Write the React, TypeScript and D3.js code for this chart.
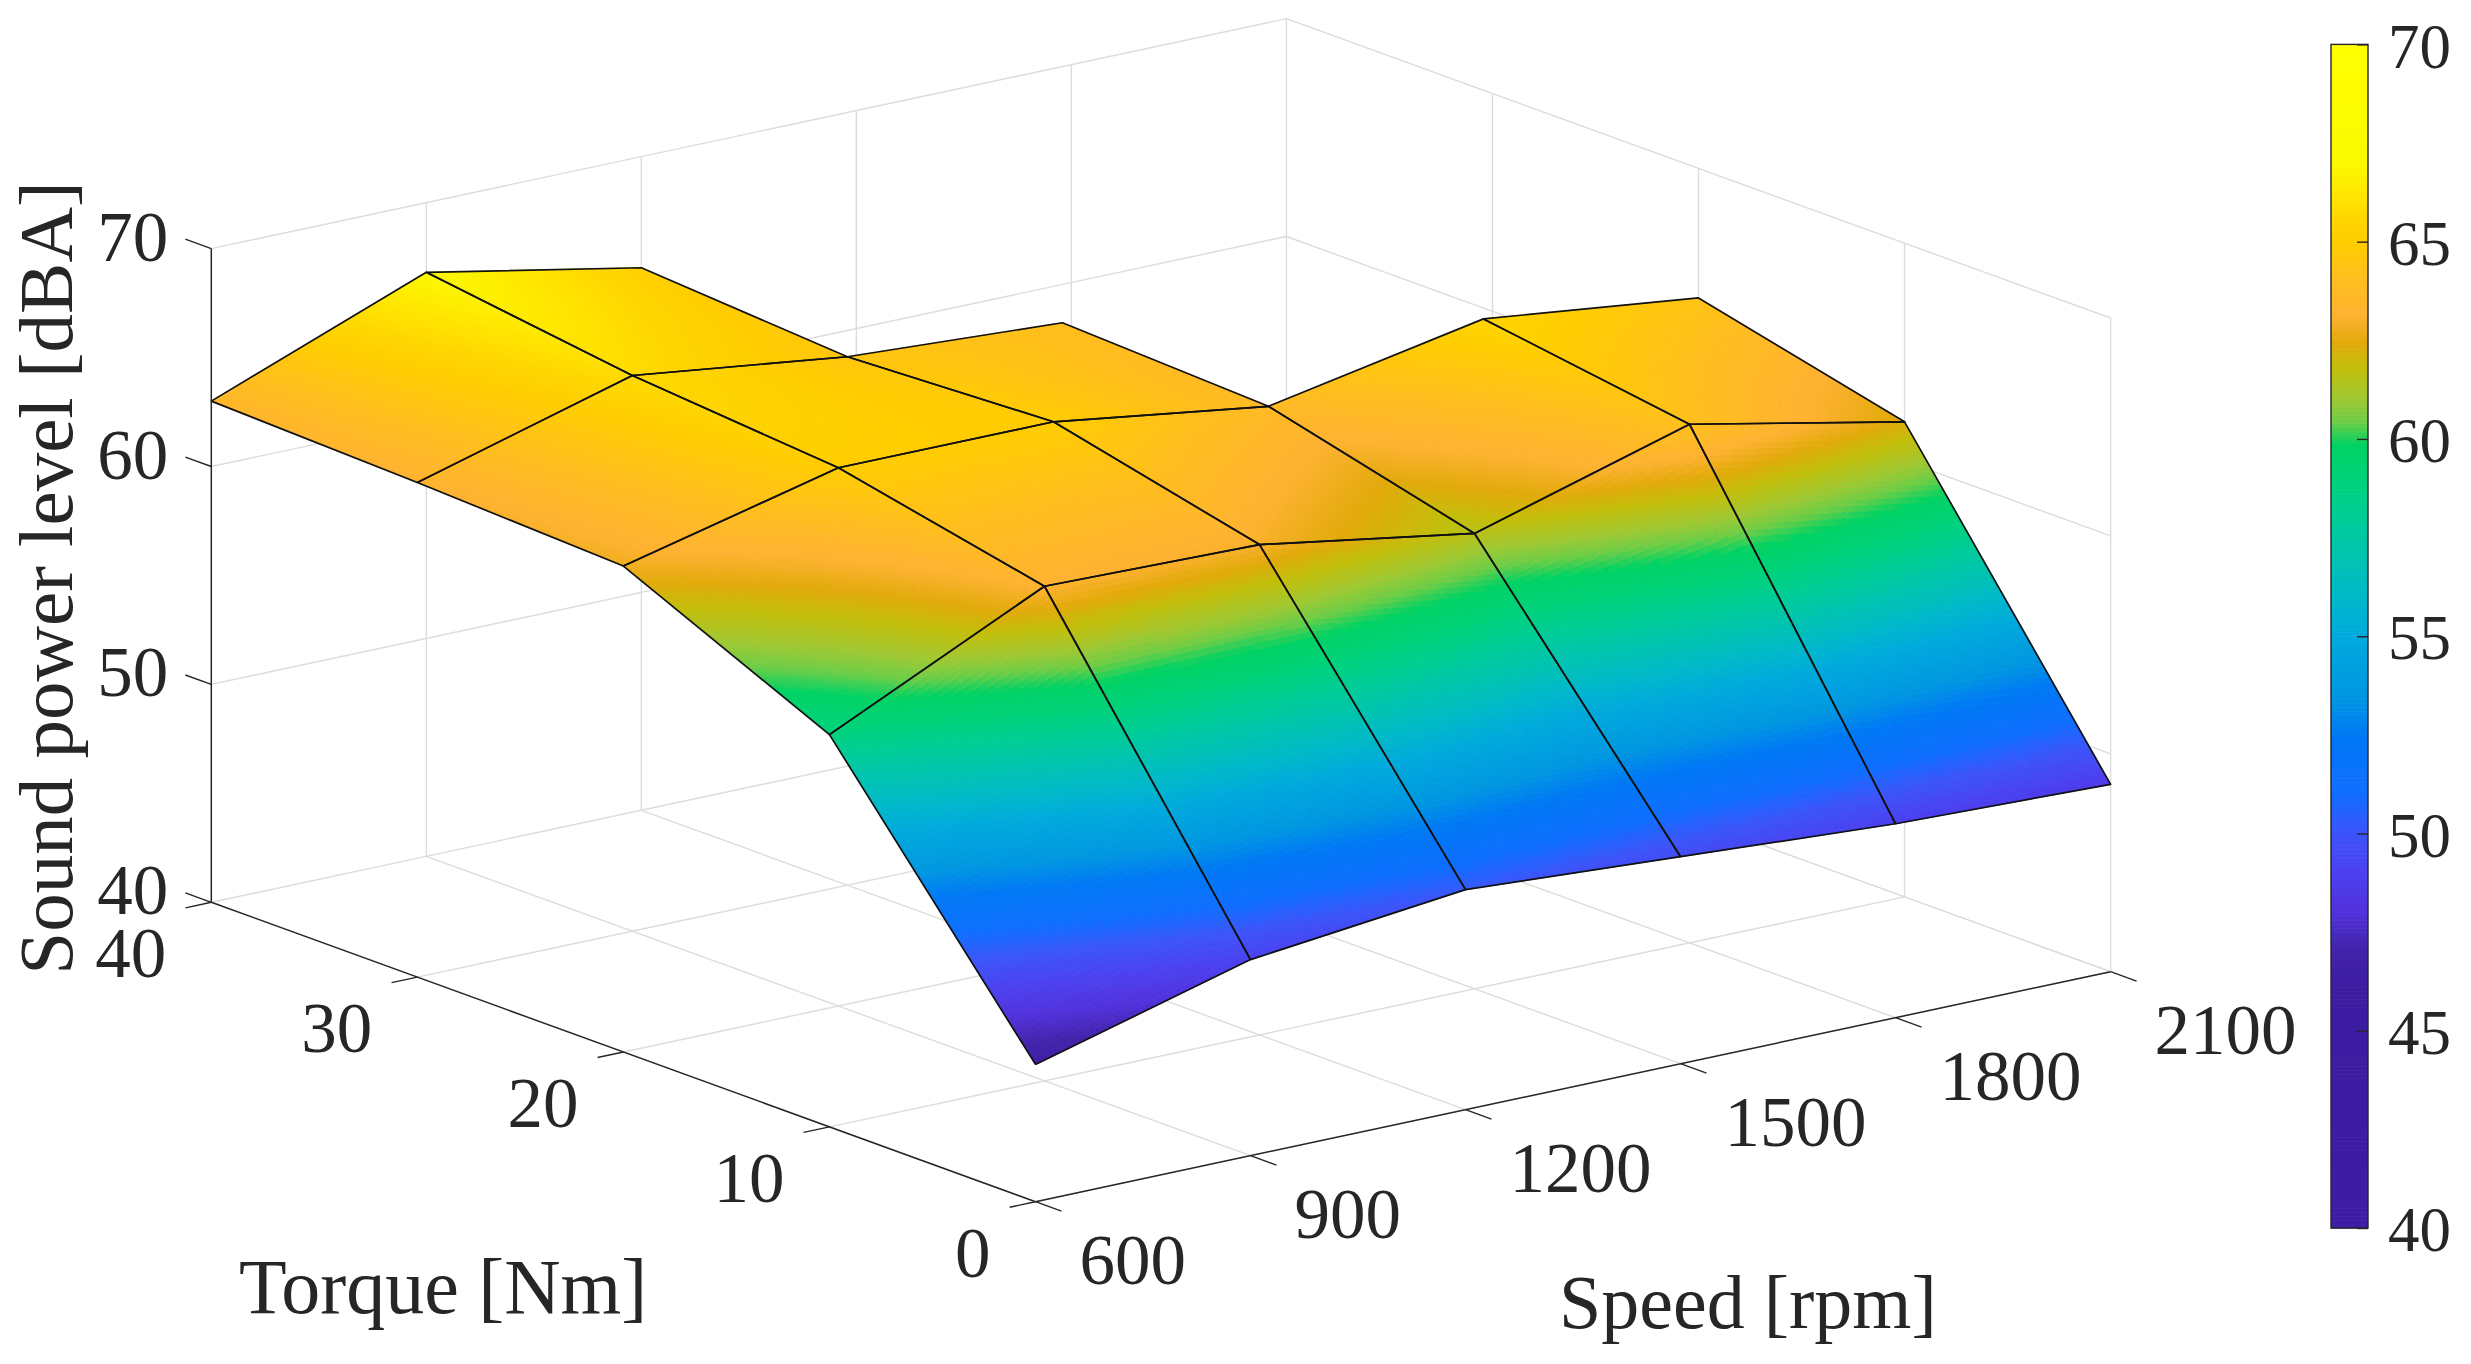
// App.tsx - sound power level surface (speed / torque map)
import * as d3 from 'd3';
import React, { useRef, useEffect } from 'react';

const speeds = [600, 900, 1200, 1500, 1800, 2100];
const torques = [0, 10, 20, 30, 40];
const zTicks = [40, 50, 60, 70];
const barTicks = [40, 45, 50, 55, 60, 65, 70];

// sound power level per torque, one value per speed, null = not measured
const splAt0 = [46.3, 49.0, 50.1, 49.5, 48.9, 48.6];
const splAt10 = [58.0, 62.7, 62.5, 60.9, 63.8, 61.8];
const splAt20 = [62.3, 64.7, 64.7, 63.3, 65.2, 64.05];
const splAt30 = [62.7, 65.5, 64.25, 63.7, null, null];
const splAt40 = [63.0, 66.8, 64.9, null, null, null];
const spl = [splAt0, splAt10, splAt20, splAt30, splAt40];

// colour bar
const mapLevels = [40, 46, 47, 48, 49, 50, 51, 52.4, 53.4, 55, 56, 57, 58, 59, 59.8, 60.4, 61, 61.8, 62.4, 63.1, 64, 65, 65.6, 66.4, 67, 70];
const mapColors = [
  '#3e1ca5', '#3c1ca0', '#4123aa', '#5232dc', '#4b41f0', '#3c55fa', '#0f6eff', '#0078f5', '#0096e1',
  '#00aadc', '#00b9c8', '#00c3af', '#00cd96', '#00d278', '#00d264', '#6ecd46', '#a0c832', '#c3be0a',
  '#e1aa0a', '#ffb232', '#ffbe1e', '#ffcd00', '#ffd800', '#ffec00', '#fafa00', '#ffff00',
];
// the surface runs a little ahead of the bar around the green band
const shadeFrom = [40, 50, 58, 61, 64, 70];
const shadeTo = [40, 50, 58.7, 61.6, 64.3, 70];

const W = 2471;
const H = 1364;
const textColor = '#262626';
const gridColor = '#dcdcdc';

// the view is orthographic, so three axis vectors are enough
const sx = d3.scaleLinear().domain([600, 2100]).range([0, 1]);
const sy = d3.scaleLinear().domain([0, 40]).range([0, 1]);
const sz = d3.scaleLinear().domain([40, 70]).range([0, 1]);
const origin = [1035.5, 1201.7];
const speedVec = [1075.1, -230];
const torqueVec = [-824.2, -299.4];
const levelVec = [0, -653.7];

function project(speed: number, torque: number, level: number): [number, number] {
  const a = sx(speed), b = sy(torque), c = sz(level);
  return [
    origin[0] + a * speedVec[0] + b * torqueVec[0] + c * levelVec[0],
    origin[1] + a * speedVec[1] + b * torqueVec[1] + c * levelVec[1],
  ];
}

function line3d(parent: any, p: [number, number], q: [number, number], color: string, width: number) {
  parent.append('line')
    .attr('x1', p[0]).attr('y1', p[1])
    .attr('x2', q[0]).attr('y2', q[1])
    .attr('stroke', color)
    .attr('stroke-width', width);
}

function App() {
  const ref = useRef<SVGSVGElement>(null);

  useEffect(() => {
    const svg = d3.select(ref.current);
    svg.selectAll('*').remove();
    const color = d3.scaleLinear<string>().domain(mapLevels).range(mapColors).interpolate(d3.interpolateRgb);
    const shade = d3.scaleLinear().domain(shadeFrom).range(shadeTo);

    // walls and floor
    const grid = svg.append('g');
    const sMin = speeds[0], sMax = speeds[speeds.length - 1];
    const tMax = torques[torques.length - 1];
    zTicks.forEach(z => {
      line3d(grid, project(sMin, tMax, z), project(sMax, tMax, z), gridColor, 1.4);
      line3d(grid, project(sMax, tMax, z), project(sMax, 0, z), gridColor, 1.4);
    });
    speeds.slice(1).forEach(s => {
      line3d(grid, project(s, 0, 40), project(s, tMax, 40), gridColor, 1.4);
      line3d(grid, project(s, tMax, 40), project(s, tMax, 70), gridColor, 1.4);
    });
    torques.slice(0, -1).forEach(t => {
      line3d(grid, project(sMin, t, 40), project(sMax, t, 40), gridColor, 1.4);
      line3d(grid, project(sMax, t, 40), project(sMax, t, 70), gridColor, 1.4);
    });

    // surface: far cells first, every cell split up for the smooth colouring
    const surface = svg.append('g');
    const steps = 64;
    const cells: [number, number][] = [];
    for (let t = torques.length - 2; t >= 0; t--) {
      for (let s = speeds.length - 2; s >= 0; s--) {
        if ([spl[t][s], spl[t][s + 1], spl[t + 1][s], spl[t + 1][s + 1]].every(v => v !== null)) cells.push([t, s]);
      }
    }
    cells.forEach(([t, s]) => {
      const s0 = speeds[s], s1 = speeds[s + 1], t0 = torques[t], t1 = torques[t + 1];
      const level = (u: number, v: number) =>
        (1 - u) * (1 - v) * (spl[t][s] as number) + u * (1 - v) * (spl[t][s + 1] as number) +
        (1 - u) * v * (spl[t + 1][s] as number) + u * v * (spl[t + 1][s + 1] as number);
      const pt = (u: number, v: number) => project(s0 + u * (s1 - s0), t0 + v * (t1 - t0), level(u, v));
      const bins = new Map<number, string>();
      for (let i = 0; i < steps; i++) {
        for (let j = 0; j < steps; j++) {
          const u0 = i / steps, u1 = (i + 1) / steps, v0 = j / steps, v1 = (j + 1) / steps;
          const bin = Math.round(shade(level((u0 + u1) / 2, (v0 + v1) / 2)) * 20);
          const d = 'M' + [pt(u0, v0), pt(u1, v0), pt(u1, v1), pt(u0, v1)].map(p => p[0].toFixed(1) + ',' + p[1].toFixed(1)).join('L') + 'Z';
          bins.set(bin, (bins.get(bin) || '') + d);
        }
      }
      const g = surface.append('g');
      bins.forEach((d, bin) => {
        g.append('path').attr('d', d).attr('fill', color(bin / 20)).attr('stroke', color(bin / 20)).attr('stroke-width', 0.8);
      });
    });

    // mesh lines
    const mesh = svg.append('g');
    const edge = d3.line<[number, number]>();
    const meshPath = (pts: [number, number][]) => mesh.append('path')
      .attr('d', edge(pts))
      .attr('fill', 'none')
      .attr('stroke', '#111')
      .attr('stroke-width', 1.7)
      .attr('stroke-linejoin', 'round');
    cells.forEach(([t, s]) => {
      meshPath([
        project(speeds[s], torques[t], spl[t][s] as number),
        project(speeds[s + 1], torques[t], spl[t][s + 1] as number),
        project(speeds[s + 1], torques[t + 1], spl[t + 1][s + 1] as number),
        project(speeds[s], torques[t + 1], spl[t + 1][s] as number),
        project(speeds[s], torques[t], spl[t][s] as number),
      ]);
    });

    // axes
    const axes = svg.append('g');
    const tickS = 36, tickT = 1.26;
    line3d(axes, project(sMin, tMax, 40), project(sMin, 0, 40), textColor, 1.5);
    line3d(axes, project(sMin, 0, 40), project(sMax, 0, 40), textColor, 1.5);
    line3d(axes, project(sMin, tMax, 40), project(sMin, tMax, 70), textColor, 1.5);

    const label = (x: number, y: number, txt: string | number, anchor: string, size = 71) =>
      svg.append('text')
        .attr('x', x).attr('y', y)
        .attr('text-anchor', anchor)
        .attr('font-family', '"Liberation Serif", serif')
        .attr('font-size', size)
        .attr('fill', textColor)
        .text(txt);

    speeds.forEach(s => {
      const p = project(s, 0, 40);
      line3d(axes, p, project(s, -tickT, 40), textColor, 1.4);
      label(p[0] + 44, p[1] + 82, s, 'start');
    });
    torques.forEach(t => {
      const p = project(sMin, t, 40);
      line3d(axes, p, project(sMin - tickS, t, 40), textColor, 1.4);
      label(p[0] - 45, p[1] + 75, t, 'end');
    });
    zTicks.forEach(z => {
      const p = project(sMin, tMax, z);
      line3d(axes, p, project(sMin, tMax + tickT, z), textColor, 1.4);
      label(p[0] - 43, p[1] + 12, z, 'end');
    });

    label(239, 1313, 'Torque [Nm]', 'start', 78);
    label(1559, 1328, 'Speed [rpm]', 'start', 76);
    label(0, 0, 'Sound power level [dBA]', 'middle', 77)
      .attr('transform', 'translate(72,578) rotate(-90)');

    // colour bar
    const barY = d3.scaleLinear().domain([40, 70]).range([1228, 44.4]);
    const barLeft = 2331, barRight = 2368;
    const bar = svg.append('g');
    for (let v = 40; v < 70; v += 0.1) {
      bar.append('rect')
        .attr('x', barLeft).attr('width', barRight - barLeft)
        .attr('y', barY(v + 0.1)).attr('height', barY(v) - barY(v + 0.1) + 0.6)
        .attr('fill', color(v));
    }
    bar.append('rect')
      .attr('x', barLeft).attr('y', barY(70))
      .attr('width', barRight - barLeft).attr('height', barY(40) - barY(70))
      .attr('fill', 'none').attr('stroke', textColor).attr('stroke-width', 1.4);
    const barAxis = svg.append('g')
      .attr('transform', `translate(${barRight},0)`)
      .call(d3.axisRight(barY).tickValues(barTicks).tickSize(-11).tickPadding(20));
    barAxis.select('.domain').remove();
    barAxis.selectAll('line').attr('stroke', textColor).attr('stroke-width', 1.4);
    barAxis.selectAll('text')
      .attr('font-family', '"Liberation Serif", serif')
      .attr('font-size', 63)
      .attr('fill', textColor)
      .attr('dy', '0.36em')
      .attr('x', 20);
  }, []);

  return (
    <svg ref={ref} width={W} height={H} style={{ position: 'absolute', left: 0, top: 0, background: '#fff' }} />
  );
}

export default App;
